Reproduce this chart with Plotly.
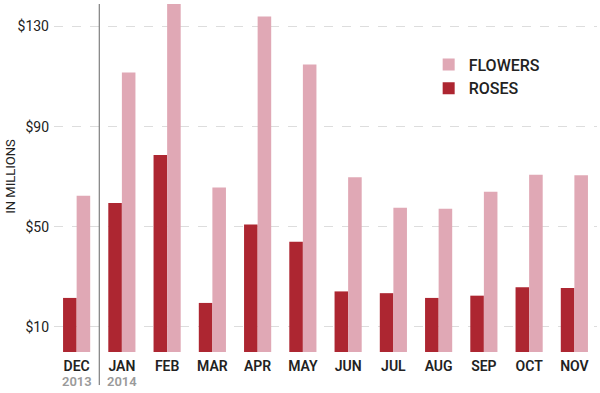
import plotly.graph_objects as go

months = ["DEC", "JAN", "FEB", "MAR", "APR", "MAY", "JUN", "JUL", "AUG", "SEP", "OCT", "NOV"]
years = {"DEC": "2013", "JAN": "2014"}
roses = [21.6, 59.5, 78.7, 19.6, 50.9, 44.0, 24.2, 23.5, 21.6, 22.5, 25.9, 25.6]
flowers = [62.4, 111.6, 139.0, 65.7, 134.0, 114.8, 69.8, 57.6, 57.2, 64.0, 70.8, 70.6]
ytick_vals = [10, 50, 90, 130]
ytick_text = ["$10", "$50", "$90", "$130"]

ROSE_C = "#ad2631"
FLOWER_C = "#e0a8b5"
FONT = "Roboto"

fig = go.Figure()
fig.add_trace(go.Bar(x=months, y=roses, name="ROSES", marker=dict(color=ROSE_C, line_width=0)))
fig.add_trace(go.Bar(x=months, y=flowers, name="FLOWERS", marker=dict(color=FLOWER_C, line_width=0)))

for m, yr in years.items():
    fig.add_annotation(x=m, y=0, xref="x", yref="y", yshift=-29, text=yr, showarrow=False,
                       font=dict(family=FONT, size=13, color="#9a9a9a", weight=600),
                       yanchor="middle")

fig.add_annotation(x=-0.079, y=0.504, xref="paper", yref="paper", text="IN MILLIONS",
                   textangle=-90, showarrow=False, xanchor="center", yanchor="middle",
                   font=dict(family=FONT, size=13, color="#222222"))

fig.add_shape(type="line", xref="x", yref="paper", x0=0.5, x1=0.5, y0=-0.095, y1=1.0,
              line=dict(color="#666666", width=1))

fig.update_layout(
    width=600, height=393,
    margin=dict(l=54, r=3, t=4, b=41, autoexpand=False),
    paper_bgcolor="white", plot_bgcolor="white",
    barmode="group", bargap=0.40, bargroupgap=0,
    font=dict(family=FONT, color="#222222"),
    legend=dict(x=0.69, y=0.875, xanchor="left", yanchor="top", traceorder="reversed",
                font=dict(family=FONT, size=16, color="#222222", weight=500),
                bgcolor="rgba(0,0,0,0)", itemwidth=30, tracegroupgap=2),
    xaxis=dict(range=[-0.5, 11.5], showgrid=False, zeroline=False, showline=False, ticks="",
               automargin=False, ticklabelstandoff=4,
               tickfont=dict(family=FONT, size=14, color="#222222", weight=600)),
    yaxis=dict(range=[0, 139], tickvals=ytick_vals, ticktext=ytick_text, showgrid=True,
               gridcolor="#dddddd", griddash="dash", gridwidth=1, zeroline=False, showline=False,
               ticks="", automargin=False, ticklabelstandoff=4,
               tickfont=dict(family=FONT, size=14, color="#222222")),
)

fig.write_html("out.html", config={"displayModeBar": False},
               post_script="document.body.style.margin='0';")
